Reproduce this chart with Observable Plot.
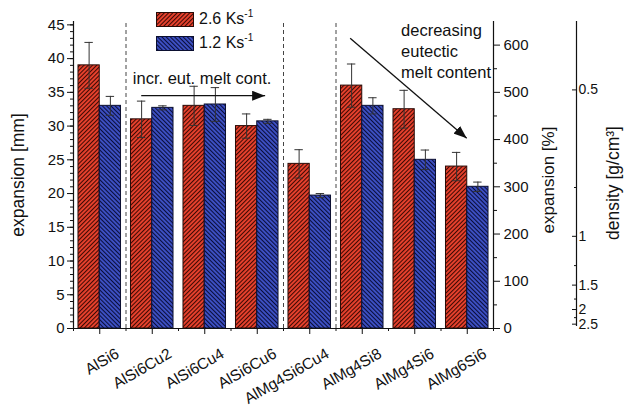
<!DOCTYPE html>
<html><head><meta charset="utf-8">
<script src="https://cdn.jsdelivr.net/npm/d3@7"></script>
<script src="https://cdn.jsdelivr.net/npm/@observablehq/plot@0.6"></script>
<style>
body{margin:0;background:#fff;font-family:"Liberation Sans",Arial,sans-serif;}
#wrap{position:relative;width:627px;height:406px;overflow:hidden;}
#chart svg{display:block}
#legend{position:absolute;left:156px;top:12px;font-size:16px;color:#111;}
.li{display:flex;align-items:center;height:14px;margin-bottom:10px;white-space:nowrap;}
.li svg{margin-right:5px;flex:none}
.li sup{font-size:10px;position:relative;top:-1px}
</style></head><body>
<svg width="0" height="0" style="position:absolute">
<defs>
<pattern id="hatchRed" patternUnits="userSpaceOnUse" width="3" height="3" patternTransform="rotate(45)">
<rect width="3" height="3" fill="#e8412d"/><line x1="0.5" y1="0" x2="0.5" y2="3" stroke="#3d0a04" stroke-width="1.1"/></pattern>
<pattern id="hatchBlue" patternUnits="userSpaceOnUse" width="3" height="3" patternTransform="rotate(-45)">
<rect width="3" height="3" fill="#3d50c4"/><line x1="0.5" y1="0" x2="0.5" y2="3" stroke="#0a0e3a" stroke-width="1.1"/></pattern>
</defs></svg>
<div id="wrap"><div id="chart"></div><div id="legend"></div></div>
<script>
// ---- data ----
const categories = ["AlSi6","AlSi6Cu2","AlSi6Cu4","AlSi6Cu6","AlMg4Si6Cu4","AlMg4Si8","AlMg4Si6","AlMg6Si6"];
const seriesNames = ["2.6 Ks", "1.2 Ks"];
const fastValues = [39.0, 31.0, 33.0, 30.0, 24.4, 36.0, 32.5, 24.0];
const fastErrors = [3.4, 2.7, 2.9, 1.8, 2.1, 3.2, 2.8, 2.1];
const slowValues = [33.0, 32.7, 33.2, 30.7, 19.7, 33.0, 25.0, 21.0];
const slowErrors = [1.4, 0.3, 2.5, 0.3, 0.3, 1.2, 1.45, 0.7];
const mmTicks = [0,5,10,15,20,25,30,35,40,45];
const pctTicks = [0,100,200,300,400,500,600];
const densityTicks = [0.5,1,1.5,2,2.5];
const densityMinorTicks = [0.75,1.25,1.75,2.25];
const separators = [0.5, 3.5, 4.5];

// ---- conversions for secondary axes ----
const mmPer100pct = 7;
const pctToMM = p => p / 100 * mmPer100pct;
const rho0 = 2.7, densK = 21.7;
const densToMM = r => densK * (1 / r - 1 / rho0);

// ---- layout ----
const yMax = 45.5, xMin = -0.5, xMax = categories.length - 0.5;
const barW = 0.405, cap = 0.08;

const rows = [];
categories.forEach((c, i) => {
  rows.push({cat: c, i, s: 0, v: fastValues[i], e: fastErrors[i], x1: i - barW, x2: i, xc: i - barW / 2});
  rows.push({cat: c, i, s: 1, v: slowValues[i], e: slowErrors[i], x1: i, x2: i + barW, xc: i + barW / 2});
});
const red = rows.filter(d => d.s === 0), blue = rows.filter(d => d.s === 1);

const arrows = [
  {x1: 0.79, y1: 34.5, x2: 3.15, y2: 34.5},
  {x1: 4.77, y1: 43.0, x2: 6.99, y2: 28.2}
];

const font = 15;
const chart = Plot.plot({
  width: 627, height: 406,
  marginLeft: 73, marginRight: 134, marginTop: 21, marginBottom: 78,
  style: {fontFamily: "'Liberation Sans', Arial, sans-serif", fontSize: font + "px", color: "#111", background: "#fff", overflow: "visible"},
  x: {type: "linear", domain: [xMin, xMax], label: null, axis: null},
  y: {domain: [0, yMax], label: null, axis: null},
  marks: [
    Plot.ruleX(separators, {y1: 0, y2: yMax, stroke: "#444", strokeDasharray: "4,3", strokeWidth: 1}),
    Plot.rect(red, {x1: "x1", x2: "x2", y1: 0, y2: "v", fill: "url(#hatchRed)", stroke: "#2a0a06", strokeWidth: 1}),
    Plot.rect(blue, {x1: "x1", x2: "x2", y1: 0, y2: "v", fill: "url(#hatchBlue)", stroke: "#0b0f30", strokeWidth: 1}),
    Plot.ruleX(rows, {x: "xc", y1: d => d.v - d.e, y2: d => d.v + d.e, stroke: "#333", strokeWidth: 1}),
    Plot.ruleY(rows, {y: d => d.v + d.e, x1: d => d.xc - cap, x2: d => d.xc + cap, stroke: "#333", strokeWidth: 1}),
    Plot.ruleY(rows, {y: d => d.v - d.e, x1: d => d.xc - cap, x2: d => d.xc + cap, stroke: "#333", strokeWidth: 1}),
    // axis lines
    Plot.ruleX([xMin, xMax], {y1: 0, y2: yMax, stroke: "#111", strokeWidth: 1.2}),
    Plot.ruleY([0], {x1: xMin, x2: xMax, stroke: "#111", strokeWidth: 1.2}),
    // left axis
    Plot.axisY(mmTicks, {anchor: "left", tickSize: 6, tickPadding: 3, fontSize: font, label: null}),
    Plot.axisY(d3.range(0, 46, 1), {anchor: "left", tickSize: 3, tickFormat: () => "", label: null}),
    // bottom axis
    Plot.axisX(d3.range(0, categories.length), {anchor: "bottom", tickSize: 6, tickFormat: () => "", label: null}),
    Plot.axisX(d3.range(-0.5, categories.length, 1), {anchor: "bottom", tickSize: 3, tickFormat: () => "", label: null}),
    Plot.text(categories, {x: (d, i) => i, frameAnchor: "bottom", rotate: -30, textAnchor: "end", lineAnchor: "middle", dx: 18, dy: 24, fontSize: 15.5}),
    // right % axis
    Plot.axisY(pctTicks.map(pctToMM), {anchor: "right", tickSize: 6, tickPadding: 4, fontSize: font, label: null, tickFormat: d => String(Math.round(d / mmPer100pct * 100))}),
    Plot.axisY(d3.range(50, 650, 100).map(pctToMM), {anchor: "right", tickSize: 3, tickFormat: () => "", label: null}),
    // density axis
    Plot.ruleX([xMax], {y1: densToMM(2.6), y2: yMax, dx: 83, stroke: "#111", strokeWidth: 1.2}),
    Plot.axisY(densityTicks.map(densToMM), {anchor: "right", dx: 78, tickSize: 5, tickPadding: 2, fontSize: 14, label: null, tickFormat: d => String(Math.round(rho0 / (1 + d * rho0 / densK) * 100) / 100)}),
    Plot.axisY(densityMinorTicks.map(densToMM), {anchor: "right", dx: 80, tickSize: 3, tickFormat: () => "", label: null}),
    // axis titles
    Plot.text(["expansion [mm]"], {frameAnchor: "left", textAnchor: "middle", rotate: -90, dx: -55, fontSize: 17.5}),
    Plot.text(["expansion [%]"], {frameAnchor: "right", textAnchor: "middle", rotate: -90, dx: 55, dy: 5, fontSize: 17}),
    Plot.text(["density [g/cm³]"], {frameAnchor: "right", textAnchor: "middle", rotate: -90, dx: 120, dy: 8, fontSize: 17.5}),
    // annotations
    Plot.text(["incr. eut. melt cont."], {x: 0.63, y: 37.0, textAnchor: "start", fontSize: 16.5}),
    Plot.text(["decreasing\neutectic\nmelt content"], {x: 5.74, y: 41.2, textAnchor: "start", lineHeight: 1.25, fontSize: 16.5}),
    Plot.link(arrows, {x1: "x1", y1: "y1", x2: "x2", y2: "y2", stroke: "#111", strokeWidth: 1.3})
  ]
});
const svg = d3.select(chart);
const defs = svg.insert("defs", ":first-child");
defs.append("marker").attr("id", "headFilled").attr("markerUnits", "userSpaceOnUse")
  .attr("markerWidth", 13).attr("markerHeight", 10).attr("viewBox", "0 0 13 10")
  .attr("refX", 13).attr("refY", 5).attr("orient", "auto")
  .append("path").attr("d", "M0,0L13,5L0,10Z").attr("fill", "#111");
svg.selectAll('g[aria-label="link"] path, g[aria-label="link"] line').attr("marker-end", "url(#headFilled)");
document.getElementById("chart").appendChild(chart);

const lg = d3.select("#legend");
[["hatchRed", "#2a0a06"], ["hatchBlue", "#0b0f30"]].forEach(([pat, st], k) => {
  const row = lg.append("div").attr("class", "li");
  row.append("svg").attr("width", 38).attr("height", 15).append("rect")
    .attr("x", 0.5).attr("y", 0.5).attr("width", 37).attr("height", 14)
    .attr("fill", `url(#${pat})`).attr("stroke", st);
  row.append("span").html(`${seriesNames[k]}<sup>-1</sup>`);
});
</script>
</body></html>
